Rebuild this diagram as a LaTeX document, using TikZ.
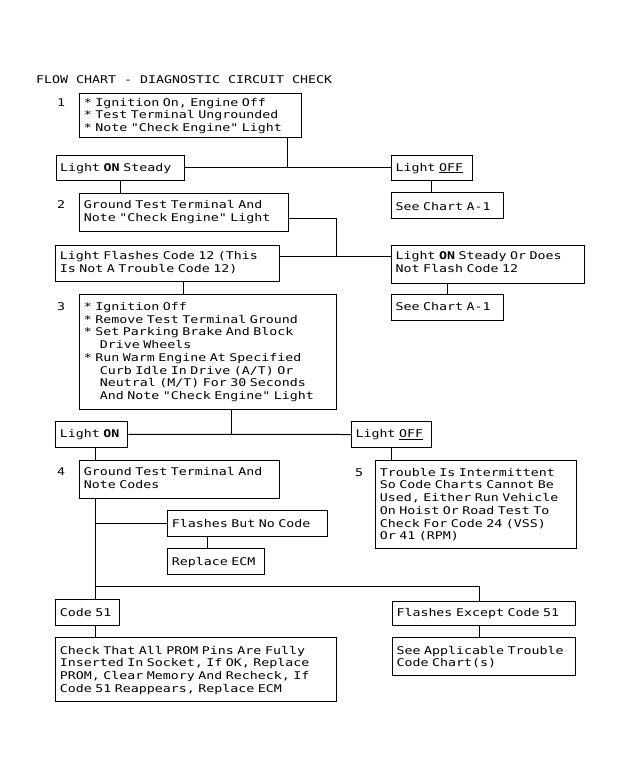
\documentclass[tikz,border=0pt]{standalone}
\usepackage{fontspec}
\newfontfamily\chartfont[FakeStretch=1.25]{DejaVu Sans Mono}
\newcommand\chartsize{\chartfont\fontsize{10.63}{12.75}\selectfont\frenchspacing
  \spaceskip=\fontcharwd\font`M\relax\xspaceskip=\spaceskip}
\begin{document}
\begin{tikzpicture}[x=1pt,y=-1pt,
  every node/.style={font=\chartsize},
  box/.style={draw, line width=1pt, anchor=base west, inner xsep=0pt, inner ysep=0pt,
    align=left, execute at begin node={\leftskip=4pt\relax}},
  lbl/.style={anchor=base west, inner sep=0pt},
  conn/.style={line width=1pt}]
\useasboundingbox (0,0) rectangle (622,777);
\fill[white] (0,0) rectangle (622,777);

\node[lbl] (title) at (36,83) {FLOW CHART - DIAGNOSTIC CIRCUIT CHECK};

% numbers
\node[lbl] (n1) at (57,106) {1};
\node[lbl] (n2) at (57,208.7) {2};
\node[lbl] (n3) at (57,310.3) {3};
\node[lbl] (n4) at (57,475.5) {4};
\node[lbl] (n5) at (355,476) {5};

% boxes
\node[box, text width=221.7pt, text height=13pt, text depth=31.7pt] (b1) at (79.3,106)
  {* Ignition On, Engine Off\\{}* Test Terminal Ungrounded\\{}* Note "Check Engine" Light};
\node[box, text width=128.3pt, text height=16pt, text depth=9pt] (on1) at (55.7,171)
  {Light \textbf{ON} Steady};
\node[box, text width=80.7pt, text height=16pt, text depth=9pt] (off1) at (391,171)
  {Light \underline{OFF}};
\node[box, text width=111.7pt, text height=17.3pt, text depth=8.3pt] (sc1) at (391,210)
  {See Chart A-1};
\node[box, text width=209pt, text height=15.7pt, text depth=22.3pt] (b2) at (79.3,208.7)
  {Ground Test Terminal And\\Note "Check Engine" Light};
\node[box, text width=224pt, text height=14.7pt, text depth=22pt] (lf) at (55.3,259.7)
  {Light Flashes Code 12 (This\\Is Not A Trouble Code 12)};
\node[box, text width=193pt, text height=14.5pt, text depth=23.5pt] (ls) at (391,259.5)
  {Light \textbf{ON} Steady Or Does\\Not Flash Code 12};
\node[box, text width=112pt, text height=16.4pt, text depth=9.3pt] (sc2) at (391,310.7)
  {See Chart A-1};
\node[box, text width=256.7pt, text height=16pt, text depth=99pt] (b3) at (79.3,310.3)
  {* Ignition Off\\{}* Remove Test Terminal Ground\\{}* Set Parking Brake And Block\\
   \hspace*{16pt}Drive Wheels\\{}* Run Warm Engine At Specified\\
   \hspace*{16pt}Curb Idle In Drive (A/T) Or\\
   \hspace*{16pt}Neutral (M/T) For 30 Seconds\\
   \hspace*{16pt}And Note "Check Engine" Light};
\node[box, text width=72pt, text height=15.8pt, text depth=9.5pt] (on2) at (55.3,437.5)
  {Light \textbf{ON}};
\node[box, text width=80pt, text height=16pt, text depth=9.6pt] (off2) at (351,437.7)
  {Light \underline{OFF}};
\node[box, text width=200pt, text height=14.8pt, text depth=22.8pt] (b4) at (79.3,475.5)
  {Ground Test Terminal And\\Note Codes};
\node[box, text width=200.7pt, text height=15.7pt, text depth=72pt] (b5) at (375.3,476)
  {Trouble Is Intermittent\\So Code Charts Cannot Be\\Used, Either Run Vehicle\\
   On Hoist Or Road Test To\\Check For Code 24 (VSS)\\Or 41 (RPM)};
\node[box, text width=160pt, text height=16.7pt, text depth=9pt] (fb) at (167.3,527)
  {Flashes But No Code};
\node[box, text width=96.7pt, text height=17pt, text depth=9.3pt] (re) at (167.3,565)
  {Replace ECM};
\node[box, text width=64pt, text height=16.7pt, text depth=9pt] (c51) at (55.3,616)
  {Code 51};
\node[box, text width=183pt, text height=15pt, text depth=9pt] (fe) at (392,616)
  {Flashes Except Code 51};
\node[box, text width=280.7pt, text height=16.3pt, text depth=47pt] (ck) at (55.3,654)
  {Check That All PROM Pins Are Fully\\Inserted In Socket, If OK, Replace\\
   PROM, Clear Memory And Recheck, If\\Code 51 Reappears, Replace ECM};
\node[box, text width=183pt, text height=16.3pt, text depth=21.3pt] (sa) at (392,654)
  {See Applicable Trouble\\Code Chart(s)};

% junction coordinates
\coordinate (j1) at (287,167.5);
\coordinate (j2) at (336,218);
\coordinate (j3) at (336,256);
\coordinate (j4) at (183,300);
\coordinate (j5) at (231,434.3);
\coordinate (tr) at (95,500);
\coordinate (j7) at (207.3,540);
\coordinate (j6) at (479.3,586.5);

% connectors
\draw[conn] (b1.south -| j1) -- (j1);
\draw[conn] (on1.east) -- (off1.west);
\draw[conn] (off1.south) -- (off1.south |- sc1.north);
\draw[conn] (on1.south) -- (on1.south |- b2.north);
\draw[conn] (b2.east |- j2) -- (j2) -- (j3);
\draw[conn] (lf.east |- j3) -- (ls.west |- j3);
\draw[conn] (sc2.north) -- (sc2.north |- ls.south);
\draw[conn] (lf.south -| j4) -- (b3.north -| j4);
\draw[conn] (b3.south -| j5) -- (j5);
\draw[conn] (on2.east) -- (off2.west);
\draw[conn] (on2.south -| tr) -- (b4.north -| tr);
\draw[conn] (off2.south) -- (off2.south |- b5.north);
\draw[conn] (b4.south -| tr) -- (c51.north -| tr);
\draw[conn] (fb.west -| tr) -- (fb.west);
\draw[conn] (fb.south -| j7) -- (re.north -| j7);
\draw[conn] (tr |- j6) -- (j6) -- (fe.north -| j6);
\draw[conn] (c51.south -| tr) -- (ck.north -| tr);
\draw[conn] (fe.south -| j6) -- (sa.north -| j6);
\end{tikzpicture}
\end{document}
